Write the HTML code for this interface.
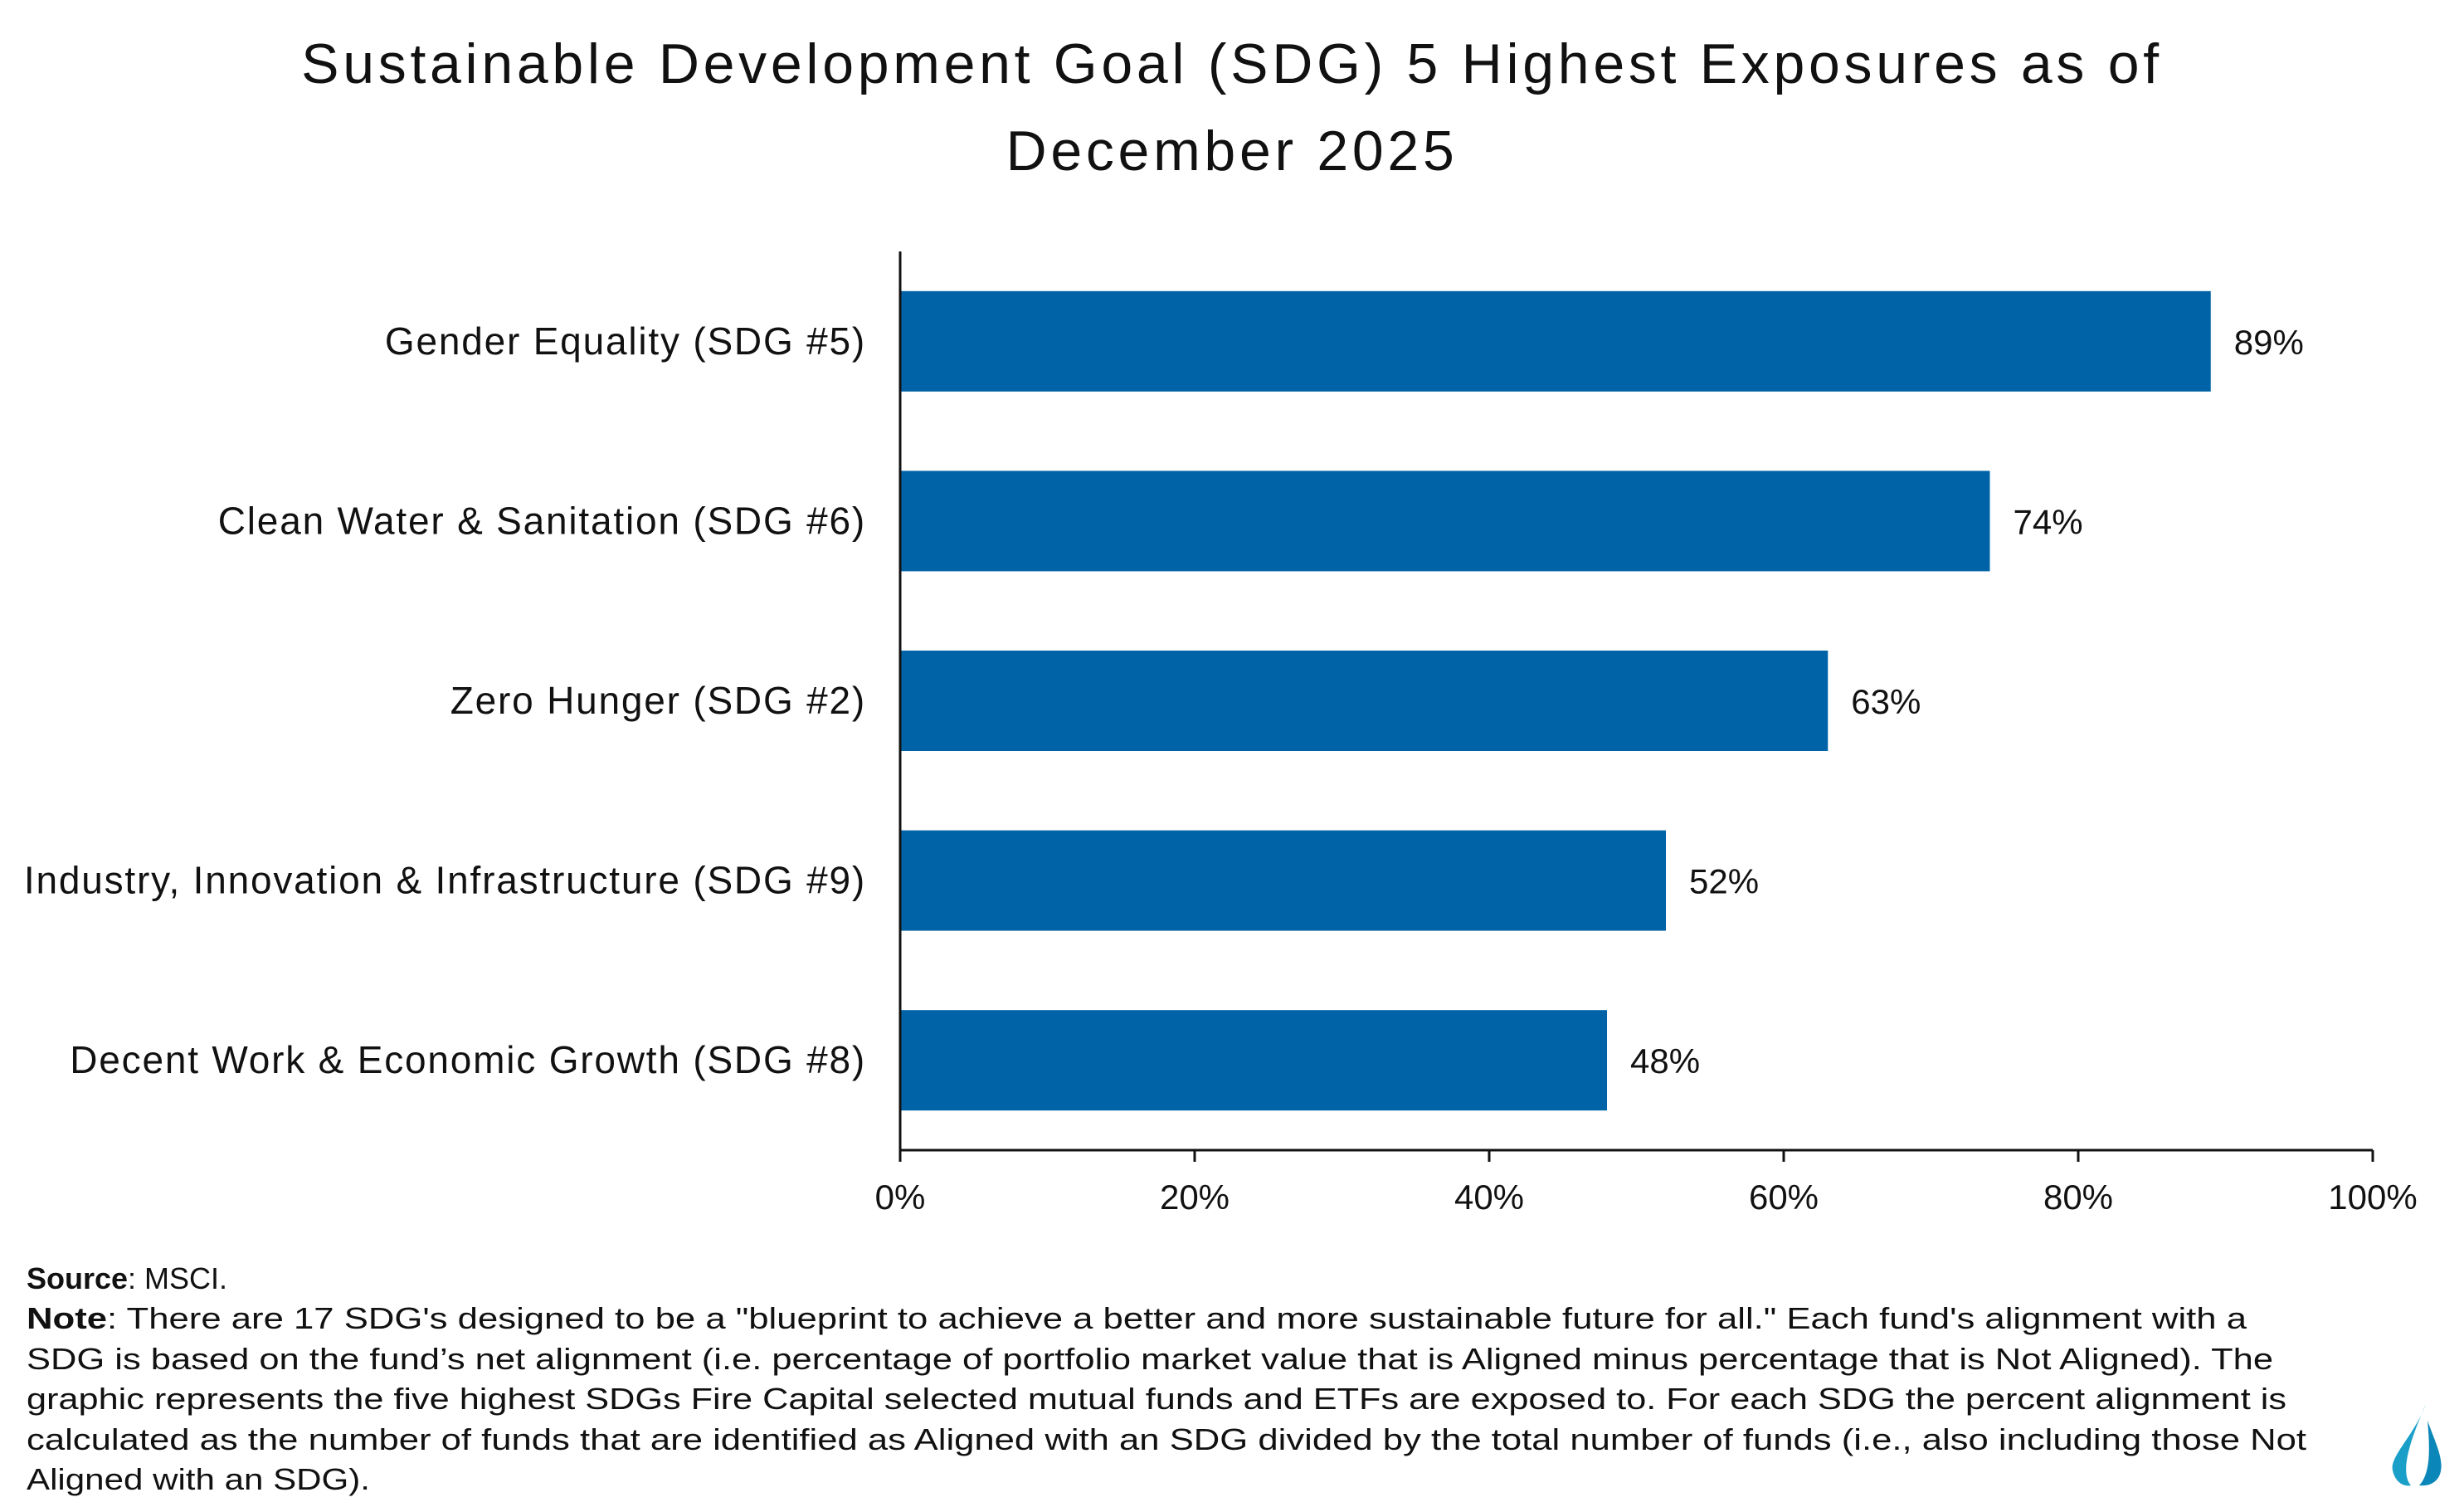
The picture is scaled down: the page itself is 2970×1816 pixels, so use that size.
<!DOCTYPE html>
<html><head><meta charset="utf-8"><style>
html,body{margin:0;padding:0;background:#fff;}
svg{display:block;font-family:"Liberation Sans",sans-serif;}
</style></head><body>
<svg id="chart" width="2970" height="1816" viewBox="0 0 2970 1816">
<text x="1485" y="100" text-anchor="middle" font-size="68" letter-spacing="4.7" fill="#111">Sustainable Development Goal (SDG) 5 Highest Exposures as of</text>
<text x="1485" y="205" text-anchor="middle" font-size="68" letter-spacing="4.7" fill="#111">December 2025</text>
<g id="plot"></g>
<g font-size="36" fill="#111">
<text x="32" y="1553"><tspan font-weight="bold">Source</tspan>: MSCI.</text>
<text x="32" y="1601" textLength="2676" lengthAdjust="spacingAndGlyphs"><tspan font-weight="bold">Note</tspan>: There are 17 SDG's designed to be a "blueprint to achieve a better and more sustainable future for all." Each fund's alignment with a</text>
<text x="32" y="1650" textLength="2708" lengthAdjust="spacingAndGlyphs">SDG is based on the fund’s net alignment (i.e. percentage of portfolio market value that is Aligned minus percentage that is Not Aligned). The</text>
<text x="32" y="1698" textLength="2724" lengthAdjust="spacingAndGlyphs">graphic represents the five highest SDGs Fire Capital selected mutual funds and ETFs are exposed to. For each SDG the percent alignment is</text>
<text x="32" y="1747" textLength="2748" lengthAdjust="spacingAndGlyphs">calculated as the number of funds that are identified as Aligned with an SDG divided by the total number of funds (i.e., also including those Not</text>
<text x="32" y="1795" textLength="414" lengthAdjust="spacingAndGlyphs">Aligned with an SDG).</text>
</g>
<g>
<path d="M2924 1692 C2910 1730 2880 1755 2884 1772 C2887 1786 2897 1792 2906 1790 C2893 1775 2903 1740 2924 1692 Z" fill="#1aa0c8"/>
<path d="M2926 1712 C2936 1740 2948 1762 2940 1779 C2935 1788 2926 1791 2916 1790 C2930 1775 2929 1745 2926 1712 Z" fill="#0b86b8"/>
</g>
</svg>
<script>
const categories = ["Gender Equality (SDG #5)","Clean Water & Sanitation (SDG #6)","Zero Hunger (SDG #2)","Industry, Innovation & Infrastructure (SDG #9)","Decent Work & Economic Growth (SDG #8)"];
const values = [89, 74, 63, 52, 48];
const tickValues = [0, 20, 40, 60, 80, 100];
const tickLabels = ["0%","20%","40%","60%","80%","100%"];

const NS = "http://www.w3.org/2000/svg";
const plot = document.getElementById("plot");
const x0 = 1085, x1 = 2860, yTop = 303, yBot = 1386;
const xScale = v => x0 + (v / 100) * (x1 - x0);
const band = (yBot - yTop) / categories.length;
const yScale = i => yTop + band * i + (band - 121) / 2;
function mk(tag, attrs) { const e = document.createElementNS(NS, tag); for (const k in attrs) e.setAttribute(k, attrs[k]); plot.appendChild(e); return e; }

categories.forEach((c, i) => {
  const y = yScale(i);
  const r = mk("rect", {x: x0, y: y, width: xScale(values[i]) - x0, height: 121, fill: "#0063a7"});
  
  
  const t = mk("text", {x: 1044, y: y + 76, "text-anchor": "end", "font-size": "46", "letter-spacing": "1.8", fill: "#111"});
  t.textContent = c;
  
  
  const v = mk("text", {x: xScale(values[i]) + 28, y: y + 76, "font-size": "42", fill: "#111"});
  v.textContent = values[i] + "%";
  
  
});

const ya = mk("line", {x1: x0, y1: yTop, x2: x0, y2: yBot, stroke: "#111", "stroke-width": 3});


const xa = mk("line", {x1: x0 - 1.5, y1: yBot, x2: x1, y2: yBot, stroke: "#111", "stroke-width": 3});


tickValues.forEach((tv, i) => {
  const x = xScale(tv);
  const tk = mk("line", {x1: x, y1: yBot, x2: x, y2: yBot + 14, stroke: "#111", "stroke-width": 3});
  
  
  const tl = mk("text", {x: x, y: 1457, "text-anchor": "middle", "font-size": "42", fill: "#111"});
  tl.textContent = tickLabels[i];
  
  
});
</script>
</body></html>
